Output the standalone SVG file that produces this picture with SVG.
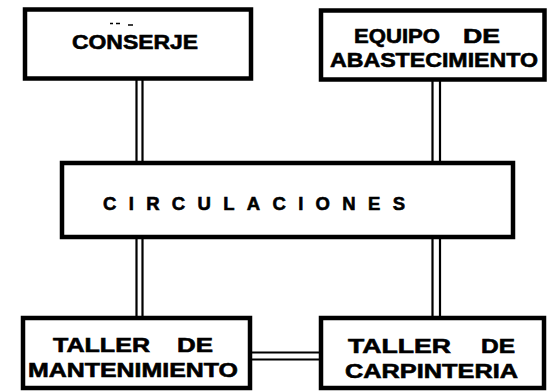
<svg xmlns="http://www.w3.org/2000/svg" width="555" height="391" viewBox="0 0 555 391">
<style>
.box{fill:#fff;stroke:#000;stroke-width:4.5}
.ln{stroke:#000;stroke-width:2.2;fill:none}
text{font-family:"Liberation Sans","DejaVu Sans",Arial,sans-serif;font-weight:bold;fill:#000;stroke:#000;stroke-width:0.6}
.t{font-size:20px}
.c{font-size:18.5px}
</style>
<rect width="555" height="391" fill="#fff"/>
<g id="connectors">
<path class="ln" d="M136.5 80V163M142.5 80V163"/>
<path class="ln" d="M432.5 80V163M440 80V163"/>
<path class="ln" d="M136.5 237V318M142.5 237V318"/>
<path class="ln" d="M432.5 237V318M440 237V318"/>
<path class="ln" d="M250 352.5H321M250 359.5H321"/>
</g>
<g id="conserje">
<rect class="box" x="25" y="9.5" width="226" height="69"/>
<path d="M110 23.5h3M116 23.5h4M128 25h5" stroke="#000" stroke-width="1.5"/>
<text class="t" x="72" y="49" textLength="126" lengthAdjust="spacingAndGlyphs">CONSERJE</text>
</g>
<g id="equipo">
<rect class="box" x="321" y="10.5" width="223.5" height="69"/>
<text class="t" y="43"><tspan x="354" textLength="86" lengthAdjust="spacingAndGlyphs">EQUIPO</tspan><tspan x="463" textLength="37" lengthAdjust="spacingAndGlyphs">DE</tspan></text>
<text class="t" x="330" y="67" textLength="208" lengthAdjust="spacingAndGlyphs">ABASTECIMIENTO</text>
</g>
<g id="circulaciones">
<rect class="box" x="62" y="163" width="451" height="74"/>
<text class="c" x="103" y="210" textLength="302" lengthAdjust="spacing">CIRCULACIONES</text>
</g>
<g id="taller-mantenimiento">
<rect class="box" x="23" y="318" width="227" height="70"/>
<text class="t" y="352"><tspan x="53" textLength="97" lengthAdjust="spacingAndGlyphs">TALLER</tspan><tspan x="177" textLength="36" lengthAdjust="spacingAndGlyphs">DE</tspan></text>
<text class="t" x="28" y="377" textLength="210" lengthAdjust="spacingAndGlyphs">MANTENIMIENTO</text>
</g>
<g id="taller-carpinteria">
<rect class="box" x="321" y="318" width="223" height="70"/>
<text class="t" y="353"><tspan x="348" textLength="103" lengthAdjust="spacingAndGlyphs">TALLER</tspan><tspan x="481" textLength="34" lengthAdjust="spacingAndGlyphs">DE</tspan></text>
<text class="t" x="345" y="378" textLength="173" lengthAdjust="spacingAndGlyphs">CARPINTERIA</text>
</g>
</svg>
